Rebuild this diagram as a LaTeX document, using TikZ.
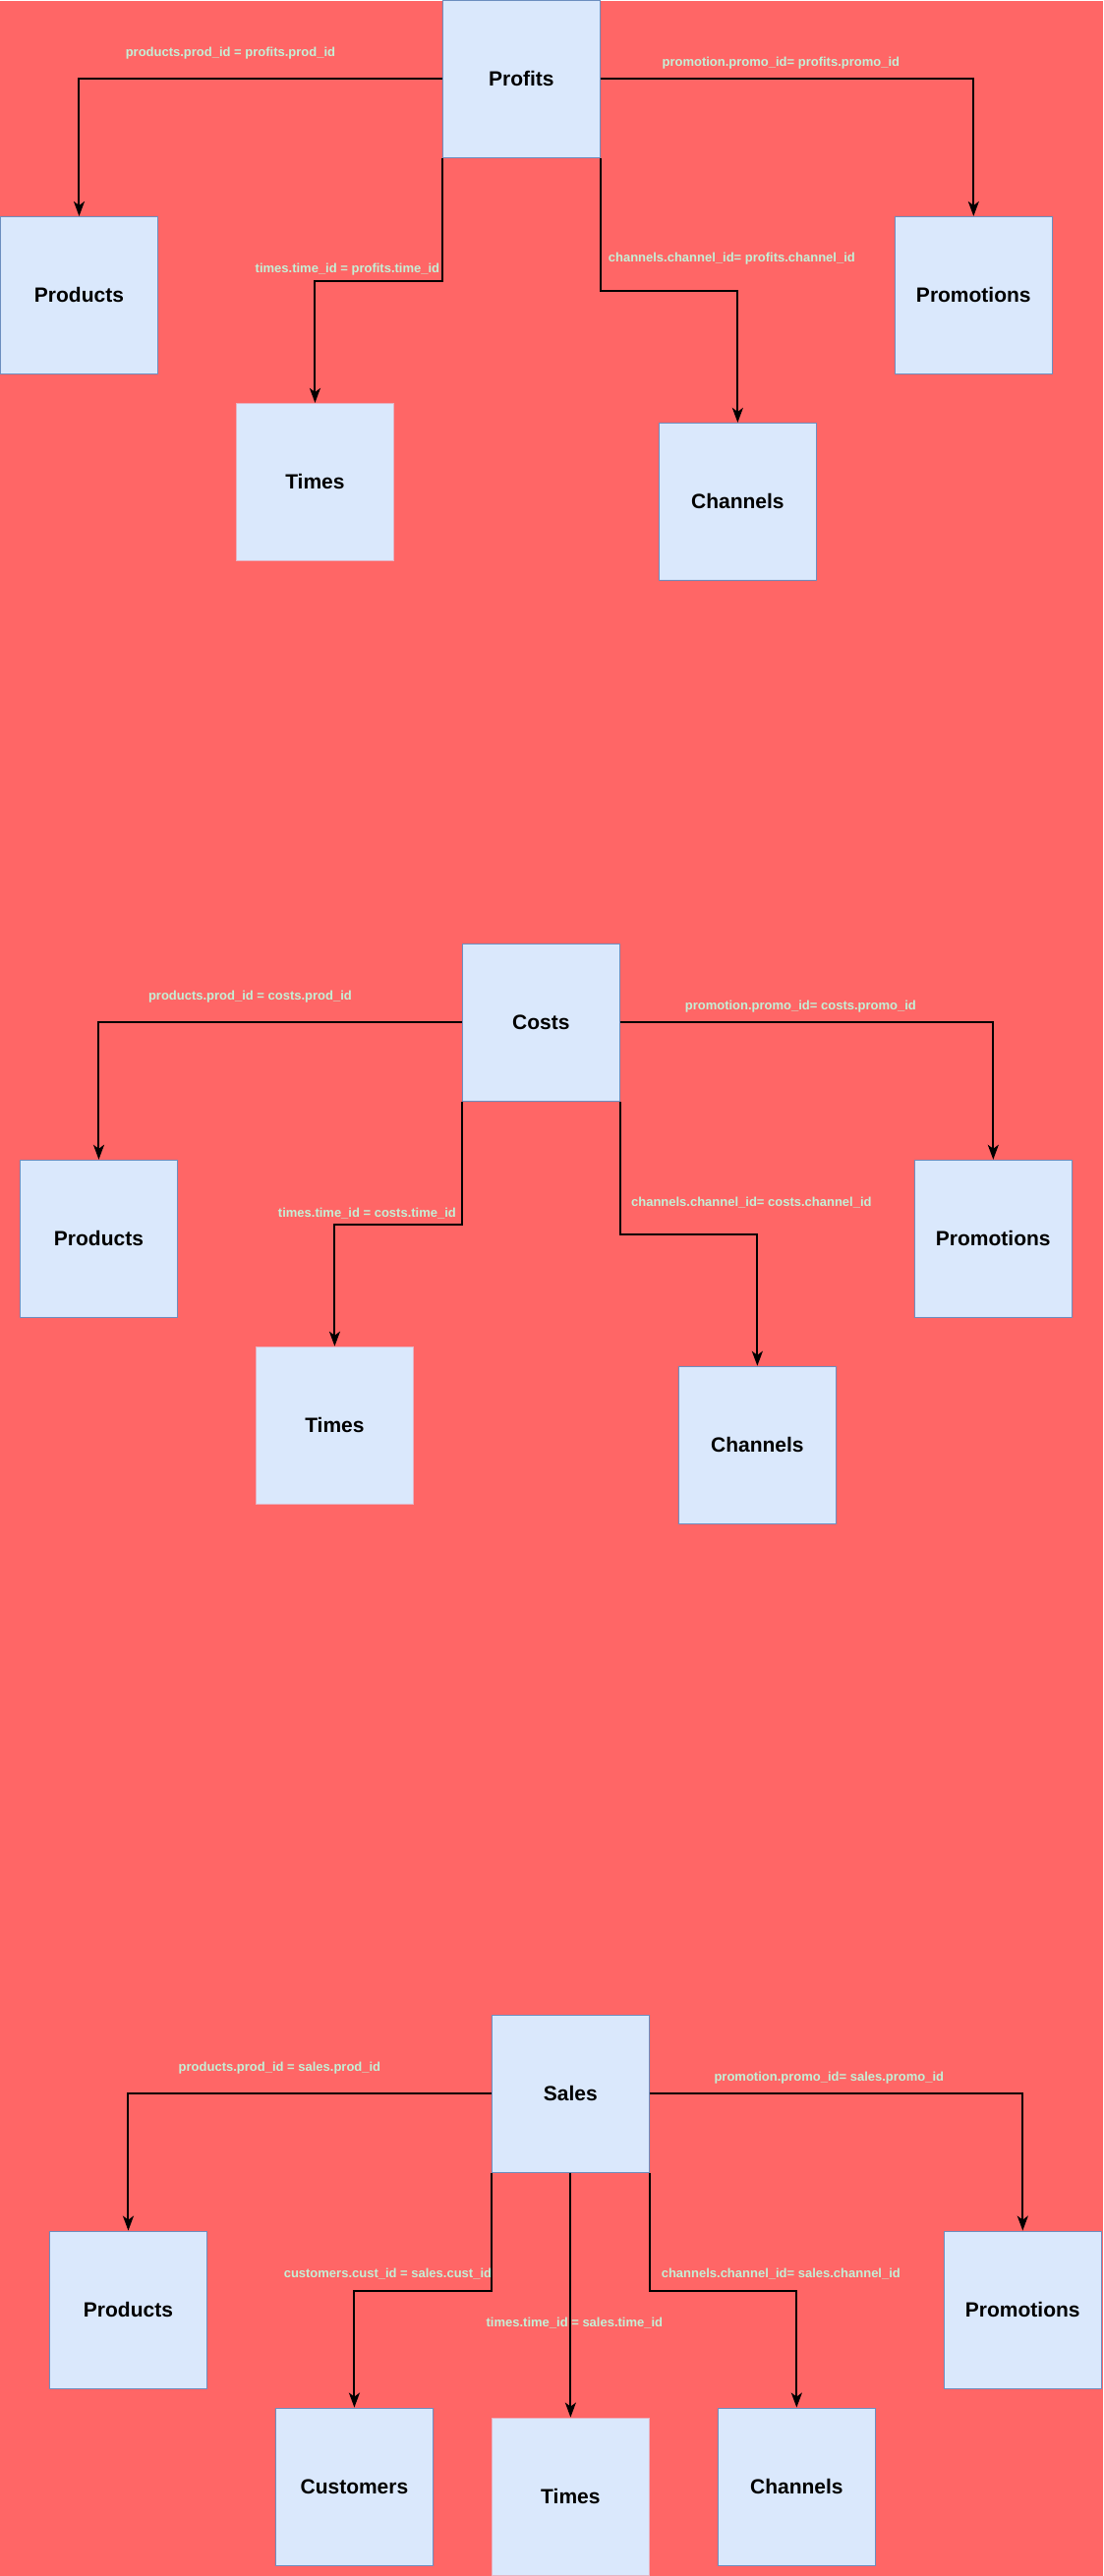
\documentclass[tikz,border=0pt]{standalone}
\usepackage{fontspec}
\setmainfont{Liberation Sans}
\usepackage{tikz}
\usetikzlibrary{arrows.meta}

\definecolor{bgred}{HTML}{FF6666}
\definecolor{boxfill}{HTML}{DAE8FC}
\definecolor{boxline}{HTML}{6C8EBF}
\definecolor{timeline}{HTML}{E6B3C3}
\definecolor{keytext}{RGB}{196,240,214}

\begin{document}
\begin{tikzpicture}[x=1pt,y=-1pt,
	table/.style={rectangle,draw=boxline,fill=boxfill,line width=1pt,minimum width=160pt,minimum height=160pt,inner sep=0pt,font=\fontsize{21}{25}\selectfont\bfseries},
	fkline/.style={-{Stealth[length=15pt,width=11pt,inset=4pt]},line width=2pt,black},
	key/.style={text=keytext,inner sep=0pt,font=\fontsize{13}{15}\selectfont\bfseries}]
		\fill[bgred] (0,0) rectangle (1122,2621);

		% profits
		\node[table] (PF) at (530,80) {Profits};
		\node[table] (PFprod) at (80,300) {Products};
		\node[table] (PFpromo) at (990,300) {Promotions};
		\node[table,draw=timeline] (PFtime) at (320,490) {Times};
		\node[table] (PFchan) at (750,510) {Channels};
		\draw[fkline] (PF.west) -| (PFprod.north);
		\draw[fkline] (PF.east) -| (PFpromo.north);
		\draw[fkline] (PF.south west) -- ++(0,125) -| (PFtime.north);
		\draw[fkline] (PF.south east) -- ++(0,135) -| (PFchan.north);
		\node[key] (kPFprod) at (234,54) {products.prod\_id = profits.prod\_id};
		\node[key] (kPFpromo) at (794,63.5) {promotion.promo\_id= profits.promo\_id};
		\node[key] (kPFtime) at (353,274) {times.time\_id = profits.time\_id};
		\node[key] (kPFchan) at (744,263) {channels.channel\_id= profits.channel\_id};

		% costs
		\node[table] (CS) at (550,1040) {Costs};
		\node[table] (CSprod) at (100,1260) {Products};
		\node[table] (CSpromo) at (1010,1260) {Promotions};
		\node[table,draw=timeline] (CStime) at (340,1450) {Times};
		\node[table] (CSchan) at (770,1470) {Channels};
		\draw[fkline] (CS.west) -| (CSprod.north);
		\draw[fkline] (CS.east) -| (CSpromo.north);
		\draw[fkline] (CS.south west) -- ++(0,125) -| (CStime.north);
		\draw[fkline] (CS.south east) -- ++(0,135) -| (CSchan.north);
		\node[key] (kCSprod) at (254,1014) {products.prod\_id = costs.prod\_id};
		\node[key] (kCSpromo) at (814,1024) {promotion.promo\_id= costs.promo\_id};
		\node[key] (kCStime) at (373,1234) {times.time\_id = costs.time\_id};
		\node[key] (kCSchan) at (764,1223) {channels.channel\_id= costs.channel\_id};

		% sales
		\node[table] (SL) at (580,2130) {Sales};
		\node[table] (SLprod) at (130,2350) {Products};
		\node[table] (SLpromo) at (1040,2350) {Promotions};
		\node[table] (SLcust) at (360,2530) {Customers};
		\node[table,draw=timeline] (SLtime) at (580,2540) {Times};
		\node[table] (SLchan) at (810,2530) {Channels};
		\draw[fkline] (SL.west) -| (SLprod.north);
		\draw[fkline] (SL.east) -| (SLpromo.north);
		\draw[fkline] (SL.south west) -- ++(0,120) -| (SLcust.north);
		\draw[fkline] (SL.south) -- (SLtime.north);
		\draw[fkline] (SL.south east) -- ++(0,120) -| (SLchan.north);
		\node[key] (kSLprod) at (284,2104) {products.prod\_id = sales.prod\_id};
		\node[key] (kSLpromo) at (843,2114) {promotion.promo\_id= sales.promo\_id};
		\node[key] (kSLcust) at (394,2313) {customers.cust\_id = sales.cust\_id};
		\node[key] (kSLtime) at (584,2364) {times.time\_id = sales.time\_id};
		\node[key] (kSLchan) at (794,2313) {channels.channel\_id= sales.channel\_id};
\end{tikzpicture}
\end{document}
